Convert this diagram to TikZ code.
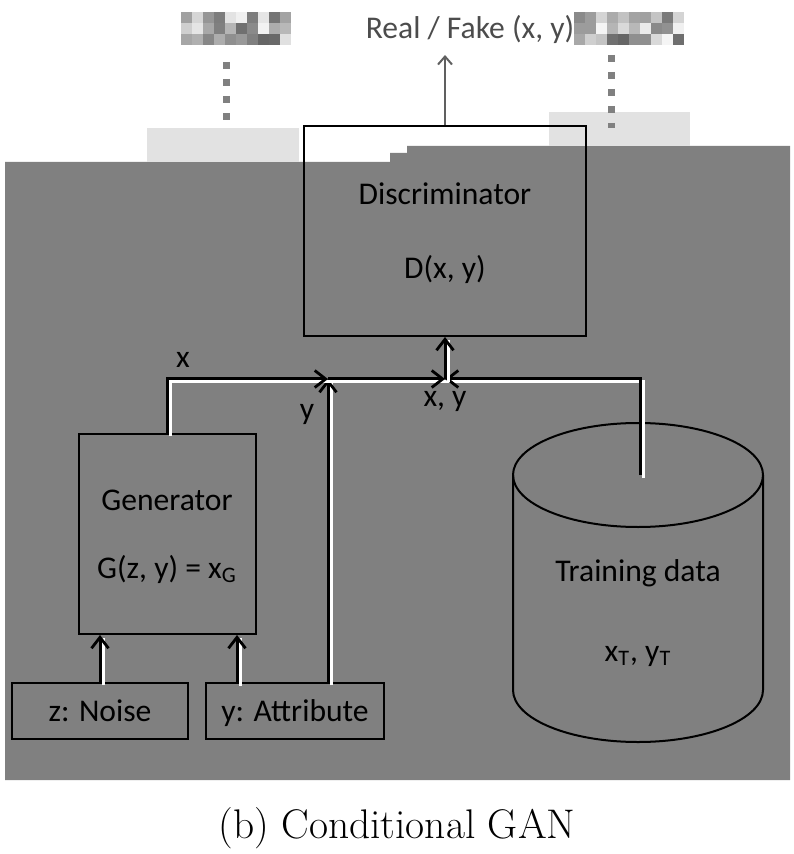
\documentclass[tikz,border=0pt]{standalone}
\usepackage{fontspec}
\newfontfamily\diafont{Carlito}
\usetikzlibrary{arrows.meta, positioning}
\definecolor{bggray}{RGB}{128,128,128}
\definecolor{lightblock}{RGB}{226,226,226}
\definecolor{tipgray}{RGB}{96,96,96}

\begin{document}
\begin{tikzpicture}[
      x=0.5pt, y=-0.5pt,
      box/.style={rectangle, draw, line width=1pt, inner sep=0pt, text depth=0pt, align=center, font=\diafont\fontsize{15.8}{19}\selectfont},
      lbl/.style={inner sep=1pt, font=\diafont\fontsize{15.8}{19}\selectfont},
      wire/.style={line width=1.5pt, preaction={draw=white, arrows=-, line width=1.5pt, transform canvas={shift={(1.5pt,-1.5pt)}}}},
      arrow/.style={wire, -{Straight Barb[length=5.5pt, width=8.5pt, line width=1.4pt]}},
      dots/.style={draw=gray, line width=3.5pt, dash pattern=on 3.5pt off 5pt}
    ]
    \useasboundingbox (0,0) rectangle (793,854);

    % background and masked areas
    \fill[bggray] (5,162) -- (390,162) -- (390,153) -- (407,153) -- (407,146) -- (790,146) -- (790,780) -- (5,780) -- cycle;
    \fill[lightblock] (147,128) rectangle (299,162);
    \fill[lightblock] (549,112) rectangle (690,146);
    \draw[dots] (226,62) -- (226,124);
    \draw[dots] (611,55) -- (611,128);
    \pgfmathsetseed{11}
    \foreach \px in {181,574} {
      \foreach \i in {0,...,9} {
        \foreach \j in {0,1,2} {
          \pgfmathsetmacro{\shade}{int(random(0,60))}
          \fill[black!\shade] (\px+\i*11,12+\j*11) rectangle ++(11,11);
        }
      }
    }

    % blocks
    \node[box, minimum width=141pt, minimum height=105pt] (disc) at (445,231) {Discriminator\\[18pt]D(x, y)};
    \node[box, minimum width=88.5pt, minimum height=100pt] (gen) at (167,534) {Generator\\[15pt]G(z, y) = x\textsubscript{G}};
    \node[box, minimum width=88pt, minimum height=28pt] (noise) at (100,711) {z: Noise};
    \node[box, minimum width=89pt, minimum height=28pt, right=8pt of noise] (attr) {y: Attribute};

    % training data cylinder
    \draw[line width=1pt] (513,475) -- (513,690) arc[start angle=180, end angle=360, x radius=62.5pt, y radius=26pt] -- (763,475);
    \draw[line width=1pt] (638,475) ellipse[x radius=62.5pt, y radius=26pt];
    \node[lbl, align=center] (data) at (638,613) {Training data\\[21pt]x\textsubscript{T}, y\textsubscript{T}};

    % labels
    \node[lbl, text=black!70] (rf) at (470,29) {Real / Fake (x, y)};
    \node[lbl] (xlbl) at (183,360) {x};
    \node[lbl] (ylbl) at (307,414) {y};
    \node[lbl] (xylbl) at (445,402) {x, y};
    \node[font=\fontsize{20.7}{25}\selectfont] (caption) at (397,828) {(b) Conditional GAN};

    \coordinate (j1) at (328,379);
    \coordinate (j2) at (445,379);
    \coordinate (datain) at (640,475);
    \coordinate (ain) at (237,683);
    \coordinate (rfin) at (445,55);

    % connectors
    \draw[arrow] (noise.north) -- (noise.north |- gen.south);
    \draw[arrow] (ain) -- (ain |- gen.south);
    \draw[arrow] (j1 |- attr.north) -- (j1);
    \draw[arrow] (gen.north) |- (j1);
    \draw[arrow] (j1) -- (j2);
    \draw[arrow] (datain) |- (j2);
    \draw[arrow] (j2) -- (disc.south);
    \draw[tipgray, line width=1pt, -{Straight Barb[length=4pt, width=7pt]}] (disc.north) -- (rfin);
  \end{tikzpicture}
\end{document}
